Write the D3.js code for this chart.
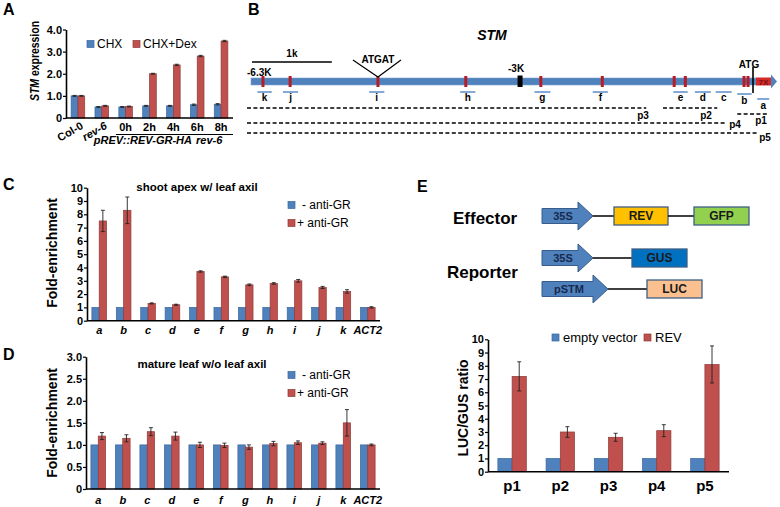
<!DOCTYPE html>
<html><head><meta charset="utf-8">
<script src="https://cdn.jsdelivr.net/npm/d3@7"></script>
<style>body{margin:0;background:#fff} svg{display:block} text{font-family:"Liberation Sans",Arial,sans-serif}</style>
</head><body><svg id="c" width="780" height="507"></svg>
<script>
// ---------- Panel A data ----------
const aCats = ["Col-0","rev-6","0h","2h","4h","6h","8h"];
const aSeries = ["CHX","CHX+Dex"];
const aCHX = [1.0,0.50,0.50,0.55,0.55,0.60,0.62];
const aDex = [1.0,0.55,0.52,2.0,2.4,2.8,3.48];
const aCHXErr = [0.02,0.02,0.02,0.02,0.02,0.03,0.03];
const aDexErr = [0.02,0.02,0.02,0.02,0.03,0.03,0.03];
const aTicks = [0,1,2,3,4];
// ---------- Panel B data (kb relative to ATG) ----------
const bMarks = [-6.15,-5.81,-4.71,-3.61,-2.67,-1.90,-1.00,-0.86,-0.125,-0.075];
const bFragNames = ["k","j","i","h","g","f","e","d","c","b","a"];
const bFragStart = [-6.22,-5.90,-4.82,-3.68,-2.75,-2.02,-1.01,-0.74,-0.48,-0.21,0.04];
const bFragEnd   = [-6.04,-5.71,-4.63,-3.49,-2.55,-1.83,-0.83,-0.54,-0.28,-0.03,0.19];
const bPromNames = ["p1","p2","p3","p4","p5"];
const bPromStart = [-0.21,-1.14,-6.35,-6.35,-6.35];
const bPromEnd   = [0.18,-0.46,-1.35,-0.34,0.04];
// ---------- Panel C / D data ----------
const cdCats = ["a","b","c","d","e","f","g","h","i","j","k","ACT2"];
const cdSeries = ["- anti-GR","+ anti-GR"];
const cMinus = [1,1,1,1,1,1,1,1,1,1,1,1];
const cPlus = [7.5,8.3,1.3,1.2,3.7,3.3,2.7,2.8,3.0,2.5,2.2,1.0];
const cPlusErr = [0.8,1.0,0.04,0.04,0.05,0.05,0.06,0.06,0.1,0.08,0.13,0.05];
const cTicks = [0,1,2,3,4,5,6,7,8,9,10];
const dMinus = [1,1,1,1,1,1,1,1,1,1,1,1];
const dPlus = [1.2,1.15,1.3,1.2,1.0,0.99,0.95,1.03,1.05,1.04,1.5,1.0];
const dPlusErr = [0.08,0.08,0.09,0.09,0.06,0.05,0.05,0.05,0.04,0.03,0.3,0.02];
const dTicks = [0,0.5,1,1.5,2,2.5,3];
// ---------- Panel E data ----------
const eCats = ["p1","p2","p3","p4","p5"];
const eSeries = ["empty vector","REV"];
const eEmpty = [1,1,1,1,1];
const eREV = [7.2,3.0,2.6,3.1,8.1];
const eREVErr = [1.1,0.4,0.3,0.45,1.4];
const eTicks = [0,1,2,3,4,5,6,7,8,9,10];

const FILL = ["#4F81BD","#C0504D"], STROKE = ["#3A679E","#8E3A38"];
const svg = d3.select("#c");
svg.append("rect").attr("width",780).attr("height",507).attr("fill","#fff");

function letter(t,x,y){ svg.append("text").attr("x",x).attr("y",y).attr("font-size",16).attr("font-weight","bold").text(t); }

function barPanel(o){
  const x = d3.scaleBand().domain(o.cats).range([o.x0,o.x1]).paddingInner(o.pad).paddingOuter(o.pad/2);
  const y = d3.scaleLinear().domain([0,o.ymax]).range([o.yb,o.yt]);
  const g = svg.append("g");
  const bw = x.bandwidth()/2;
  [o.s1,o.s2].forEach((vals,si)=>{
    g.selectAll(null).data(vals).join("rect")
      .attr("x",(d,i)=>x(o.cats[i])+si*bw).attr("y",d=>y(d))
      .attr("width",bw).attr("height",d=>y(0)-y(d))
      .attr("fill",FILL[si]).attr("stroke",STROKE[si]).attr("stroke-width",0.7);
  });
  [[o.s1,o.e1],[o.s2,o.e2]].forEach(([vals,errs],si)=>{
    if(!errs) return;
    vals.forEach((v,i)=>{
      const cx = x(o.cats[i])+si*bw+bw/2;
      const e = errs[i];
      g.append("line").attr("x1",cx).attr("x2",cx).attr("y1",y(v-e)).attr("y2",y(v+e)).attr("stroke","#222").attr("stroke-width",0.9);
      [v-e,v+e].forEach(t=>g.append("line").attr("x1",cx-2).attr("x2",cx+2).attr("y1",y(t)).attr("y2",y(t)).attr("stroke","#222").attr("stroke-width",0.9));
    });
  });
  const ax = g.append("g").attr("transform",`translate(${o.x0},0)`)
    .call(d3.axisLeft(y).tickValues(o.ticks).tickFormat(o.fmt).tickSize(3).tickSizeOuter(0));
  ax.select(".domain").attr("stroke","#000").attr("stroke-width",1.6);
  ax.selectAll(".tick line").attr("stroke","#000").attr("stroke-width",1.2);
  ax.selectAll(".tick text").attr("font-size",o.tickFs||11).attr("font-weight","bold").attr("fill","#000")
    .attr("font-family","Liberation Sans, Arial, sans-serif").attr("x",-4);
  g.append("line").attr("x1",o.x0).attr("x2",o.x1).attr("y1",y(0)).attr("y2",y(0)).attr("stroke","#000").attr("stroke-width",1.6);
  return {x,y,g,bw};
}

// =============== Panel A ===============
letter("A",3,15);
const A = barPanel({cats:aCats,s1:aCHX,s2:aDex,e1:aCHXErr,e2:aDexErr,x0:66,x1:233,yb:118,yt:29.5,ymax:4,pad:0.43,ticks:aTicks,fmt:d=>d===0?"0":d3.format(".1f")(d)});
// A x labels
aCats.forEach((c,i)=>{
  const cx = A.x(c)+A.x.bandwidth()/2;
  if(i<2){
    svg.append("text").attr("transform",`translate(${cx+6},128) rotate(-30)`).attr("text-anchor","end")
      .attr("font-size",11).attr("font-weight","bold").attr("font-style",i===1?"italic":"normal").text(c);
  } else {
    svg.append("text").attr("x",cx).attr("y",131).attr("text-anchor","middle").attr("font-size",11).attr("font-weight","bold").text(c);
  }
});
svg.append("line").attr("x1",A.x("0h")-3).attr("x2",233).attr("y1",134.5).attr("y2",134.5).attr("stroke","#000").attr("stroke-width",1);
svg.append("text").attr("x",192).attr("y",144).attr("text-anchor","end").attr("font-size",11).attr("font-weight","bold").attr("font-style","italic").text("pREV::REV-GR-HA");
svg.append("text").attr("x",196).attr("y",144).attr("font-size",11).attr("font-weight","bold").attr("font-style","italic").text("rev-6");
// A y label
{
  const t = svg.append("text").attr("transform","translate(39,61) rotate(-90)").attr("text-anchor","middle")
    .attr("font-size",13).attr("font-weight","bold").attr("textLength",80).attr("lengthAdjust","spacingAndGlyphs");
  t.append("tspan").attr("font-style","italic").text("STM");
  t.append("tspan").text(" expression");
}
// A legend
[[87,97],[133,143]].forEach(([sx,tx],i)=>{
  svg.append("rect").attr("x",sx).attr("y",40.5).attr("width",7).attr("height",7).attr("fill",FILL[i]).attr("stroke",STROKE[i]).attr("stroke-width",0.7);
  svg.append("text").attr("x",tx).attr("y",48).attr("font-size",12).text(aSeries[i]);
});

// =============== Panel B ===============
letter("B",248,15);
const xB = d3.scaleLinear().domain([-6.3,0]).range([251,754]);
svg.append("text").attr("x",492).attr("y",40).attr("text-anchor","middle").attr("font-size",14).attr("font-weight","bold").attr("font-style","italic").text("STM");
// scale bar 1k
svg.append("line").attr("x1",252).attr("x2",252+(xB(1)-xB(0))).attr("y1",62).attr("y2",62).attr("stroke","#000").attr("stroke-width",1.5);
svg.append("text").attr("x",252+(xB(1)-xB(0))/2).attr("y",57).attr("text-anchor","middle").attr("font-size",10).attr("font-weight","bold").text("1k");
svg.append("text").attr("x",247).attr("y",76).attr("font-size",10).attr("font-weight","bold").text("-6.3K");
// main bar
svg.append("rect").attr("x",xB(-6.3)).attr("y",78).attr("width",xB(0)+2-xB(-6.3)).attr("height",7).attr("fill","#4F81BD").attr("stroke","#7EA3D0").attr("stroke-width",0.6);
svg.append("rect").attr("x",xB(0)+2).attr("y",77.5).attr("width",15).attr("height",8).attr("fill","#D42A2A");
svg.append("text").attr("x",xB(0)+9.5).attr("y",84.5).attr("text-anchor","middle").attr("font-size",8).attr("font-weight","bold").attr("fill","#7a1010").text("7X");
svg.append("path").attr("d",`M${xB(0)+17},74.5 L${xB(0)+23},81.5 L${xB(0)+17},88.5 Z`).attr("fill","#4F81BD");
// red marks
svg.selectAll(null).data(bMarks).join("rect").attr("x",d=>xB(d)-1.5).attr("y",76).attr("width",3).attr("height",11).attr("fill","#B51C24");
// -3K marker
svg.append("rect").attr("x",xB(-2.93)-2.5).attr("y",75.5).attr("width",5).attr("height",11.5).attr("fill","#000");
svg.append("text").attr("x",xB(-2.93)-4).attr("y",72).attr("text-anchor","middle").attr("font-size",10).attr("font-weight","bold").text("-3K");
// ATGAT
{
  const mx = xB(bMarks[2]);
  svg.append("path").attr("d",`M${mx-25},60 L${mx},77 L${mx+23},60`).attr("fill","none").attr("stroke","#000").attr("stroke-width",1.2);
  svg.append("text").attr("x",mx).attr("y",63).attr("text-anchor","middle").attr("font-size",10).attr("font-weight","bold").text("ATGAT");
}
// ATG
svg.append("line").attr("x1",xB(0)-1).attr("x2",xB(0)-1).attr("y1",67).attr("y2",93).attr("stroke","#000").attr("stroke-width",1.6);
svg.append("text").attr("x",xB(0)-5).attr("y",68).attr("text-anchor","middle").attr("font-size",10).attr("font-weight","bold").text("ATG");
// fragments
bFragNames.forEach((n,i)=>{
  const lane = n==="a"?2:(n==="b"?1:0);
  const ly = [92,94,99][lane], ty=[100.5,103.5,108.5][lane];
  svg.append("line").attr("x1",xB(bFragStart[i])).attr("x2",xB(bFragEnd[i])).attr("y1",ly).attr("y2",ly).attr("stroke","#5B8CC8").attr("stroke-width",1.5);
  svg.append("text").attr("x",(xB(bFragStart[i])+xB(bFragEnd[i]))/2).attr("y",ty).attr("text-anchor","middle").attr("font-size",10).attr("font-weight","bold").text(n);
});
// promoter fragments
const promY = [114,108,108,123,133];
const promLab = [[761,123.5],[706,118.5],[643,118.5],[735,127.5],[765,140.5]];
bPromNames.forEach((n,i)=>{
  svg.append("line").attr("x1",xB(bPromStart[i])).attr("x2",xB(bPromEnd[i])).attr("y1",promY[i]).attr("y2",promY[i])
    .attr("stroke","#000").attr("stroke-width",1.4).attr("stroke-dasharray","4,2.4");
  svg.append("text").attr("x",promLab[i][0]).attr("y",promLab[i][1]).attr("text-anchor","middle").attr("font-size",10).attr("font-weight","bold").text(n);
});

// =============== Panel C ===============
letter("C",3,190);
const C = barPanel({cats:cdCats,s1:cMinus,s2:cPlus,e1:null,e2:cPlusErr,x0:87,x1:380,yb:320.7,yt:187.7,ymax:10,pad:0.4,ticks:cTicks,fmt:d3.format("d")});
function cdLabels(P,yb){
  cdCats.forEach(c=>{
    svg.append("text").attr("x",P.x(c)+P.x.bandwidth()/2).attr("y",yb).attr("text-anchor","middle")
      .attr("font-size",11).attr("font-weight","bold").attr("font-style","italic").text(c);
  });
}
cdLabels(C,334);
svg.append("text").attr("x",197).attr("y",191).attr("text-anchor","middle").attr("font-size",11.5).attr("font-weight","bold").text("shoot apex w/ leaf axil");
function ylab(t,x,y){ svg.append("text").attr("transform",`translate(${x},${y}) rotate(-90)`).attr("text-anchor","middle").attr("font-size",14).attr("font-weight","bold").text(t); }
ylab("Fold-enrichment",57,253);
function cdLegend(y1,y2){
  [[y1,302],[y2,297]].forEach(([yy,tx],i)=>{
    svg.append("rect").attr("x",288).attr("y",yy).attr("width",7).attr("height",7).attr("fill",FILL[i]).attr("stroke",STROKE[i]).attr("stroke-width",0.7);
    svg.append("text").attr("x",tx).attr("y",yy+7.5).attr("font-size",12).text(cdSeries[i]);
  });
}
cdLegend(201.5,219.5);

// =============== Panel D ===============
letter("D",3,360);
const D = barPanel({cats:cdCats,s1:dMinus,s2:dPlus,e1:null,e2:dPlusErr,x0:86,x1:380,yb:489,yt:356.7,ymax:3,pad:0.4,ticks:dTicks,fmt:d=>d===0?"0":d3.format(".1f")(d)});
cdLabels(D,504);
svg.append("text").attr("x",202).attr("y",368).attr("text-anchor","middle").attr("font-size",11.5).attr("font-weight","bold").text("mature leaf w/o leaf axil");
ylab("Fold-enrichment",57,423);
cdLegend(371.5,389.5);

// =============== Panel E ===============
letter("E",417,192);
svg.append("text").attr("x",453).attr("y",224).attr("font-size",17).attr("font-weight","bold").text("Effector");
svg.append("text").attr("x",447).attr("y",278).attr("font-size",17).attr("font-weight","bold").text("Reporter");
function arrow(x,cy,bodyW,label,lx){
  svg.append("path").attr("d",`M${x},${cy-7.5} L${x+bodyW},${cy-7.5} L${x+bodyW},${cy-14} L${x+bodyW+15},${cy} L${x+bodyW},${cy+14} L${x+bodyW},${cy+7.5} L${x},${cy+7.5} Z`)
    .attr("fill","#4F81BD").attr("stroke","#385D8A").attr("stroke-width",1);
  svg.append("text").attr("x",lx).attr("y",cy+4).attr("text-anchor","middle").attr("font-size",11).attr("font-weight","bold").attr("fill","#17294d").text(label);
  return x+bodyW+15;
}
function box(x,cy,w,fill,label){
  svg.append("rect").attr("x",x).attr("y",cy-9).attr("width",w).attr("height",18).attr("fill",fill).attr("stroke","#3F5F86").attr("stroke-width",1.3);
  svg.append("text").attr("x",x+w/2).attr("y",cy+4).attr("text-anchor","middle").attr("font-size",12).attr("font-weight","bold").attr("fill","#1a1a1a").text(label);
}
function link(x1,x2,y){ svg.append("line").attr("x1",x1).attr("x2",x2).attr("y1",y).attr("y2",y).attr("stroke","#000").attr("stroke-width",1.5); }
{
  let t = arrow(542,216,36,"35S",563); link(t,614,216); box(614,216,54,"#FFC000","REV"); link(668,694,216); box(694,216,55,"#92D050","GFP");
  t = arrow(542,258,36,"35S",563); link(t,632,258); box(632,258,55,"#0070C0","GUS");
  t = arrow(542,289,51,"pSTM",569); link(t,647,289); box(647,289,55,"#FAC090","LUC");
}
const E = barPanel({cats:eCats,s1:eEmpty,s2:eREV,e1:null,e2:eREVErr,x0:488,x1:729,yb:471.7,yt:339.3,ymax:10,pad:0.41,ticks:eTicks,fmt:d3.format("d")});
eCats.forEach(c=>{
  svg.append("text").attr("x",E.x(c)+E.x.bandwidth()/2).attr("y",491).attr("text-anchor","middle").attr("font-size",15).attr("font-weight","bold").text(c);
});
ylab("LUC/GUS ratio",468,408);
[[552,563],[644,655]].forEach(([sx,tx],i)=>{
  svg.append("rect").attr("x",sx).attr("y",334).attr("width",7).attr("height",7).attr("fill",FILL[i]).attr("stroke",STROKE[i]).attr("stroke-width",0.7);
  svg.append("text").attr("x",tx).attr("y",341.5).attr("font-size",13).text(eSeries[i]);
});
</script></body></html>
